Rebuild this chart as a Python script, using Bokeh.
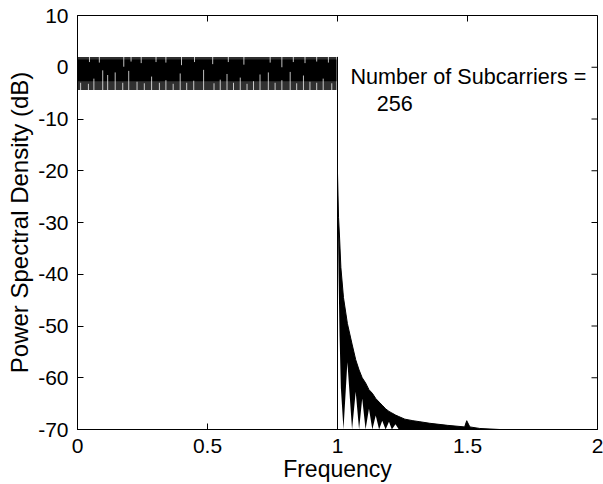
import math
from bokeh.plotting import figure
from bokeh.models import Range1d, Label, FixedTicker
from bokeh.embed import file_html
from bokeh.resources import INLINE

# ---- data ----
# in-band spectrum (0..1): dense ripple, drawn as core band + fringe + notches
band_x = [0.0, 0.996]
band_core_hi = [1.5, 1.5]
band_core_lo = [-2.7, -2.7]
band_fringe_hi = [2.0, 2.0]
band_fringe_lo = [-4.4, -4.4]

# white dips reaching up from the bottom of the band (x, top of dip in dB)
notch_up_x = [0.012, 0.042, 0.063, 0.097, 0.116, 0.145, 0.174, 0.197, 0.229, 0.257,
              0.285, 0.315, 0.340, 0.368, 0.395, 0.420, 0.447, 0.485, 0.525, 0.549,
              0.575, 0.600, 0.626, 0.652, 0.677, 0.702, 0.734, 0.760, 0.786, 0.818,
              0.843, 0.869, 0.894, 0.920, 0.945, 0.978]
notch_up_top = [-3.0, -3.2, -2.2, -0.6, -1.5, -1.0, -3.0, -0.7, -2.8, -3.1,
                -1.8, -3.0, -2.5, -3.2, -1.2, -3.0, -2.6, -0.5, -3.1, -2.4,
                -1.3, -3.0, -2.0, -3.2, -2.7, -1.4, -1.0, -3.0, -2.5, -0.9,
                -3.1, -1.6, -2.8, -3.0, -2.2, -3.1]
# white dips reaching down from the top of the band (x, bottom of dip in dB)
notch_dn_x = [0.046, 0.084, 0.178, 0.206, 0.245, 0.302, 0.340, 0.400, 0.450, 0.520,
              0.580, 0.640, 0.741, 0.786, 0.830, 0.875, 0.920, 0.965]
notch_dn_bot = [1.0, 0.9, 0.1, 1.1, 0.8, 1.0, 0.9, 0.4, 1.0, 0.6,
                1.0, 0.5, 0.9, 0.0, 1.0, 0.8, 1.1, 0.9]

# band edge at f = 1
edge_x = [1.0]
edge_lo = [-70.0]
edge_hi = [2.0]

# out-of-band tail (upper and lower envelope)
tail_x = [1.000, 1.004, 1.008, 1.013, 1.023, 1.038, 1.056, 1.070, 1.083, 1.095,
          1.108, 1.121, 1.134, 1.147, 1.160, 1.172, 1.185, 1.198, 1.209, 1.223,
          1.236, 1.259, 1.290, 1.317, 1.355, 1.424, 1.489, 1.497, 1.509, 1.547,
          1.624, 2.000]
tail_hi = [-20.5, -29.0, -33.0, -38.7, -44.5, -49.5, -53.5, -56.5, -58.5, -60.0,
           -61.0, -62.3, -63.0, -64.0, -64.7, -65.3, -66.0, -66.5, -66.8, -67.2,
           -67.5, -68.0, -68.3, -68.5, -68.8, -69.2, -69.5, -68.3, -69.5, -69.8,
           -70.0, -70.0]
tail_lo = [-24.0, -40.0, -52.0, -62.0, -70.0, -57.0, -70.0, -62.7, -70.0, -64.0,
           -70.0, -66.0, -70.0, -67.3, -70.0, -68.3, -70.0, -68.5, -70.0, -69.0,
           -70.0, -70.0, -70.0, -70.0, -70.0, -70.0, -70.0, -70.0, -70.0, -70.0,
           -70.0, -70.0]

x_ticks = [0, 0.5, 1, 1.5, 2]
x_tick_labels = ["0", "0.5", "1", "1.5", "2"]
y_ticks = [-70, -60, -50, -40, -30, -20, -10, 0, 10]
y_tick_labels = ["-70", "-60", "-50", "-40", "-30", "-20", "-10", "0", "10"]

FONT = "Liberation Sans"

p = figure(width=603, height=484, x_range=Range1d(x_ticks[0], x_ticks[-1]),
           y_range=Range1d(y_ticks[0], y_ticks[-1]),
           output_backend="svg", toolbar_location=None,
           min_border_left=77, min_border_right=6, min_border_top=15, min_border_bottom=54)
p.xgrid.visible = False
p.ygrid.visible = False
p.outline_line_color = "black"
p.background_fill_color = "white"
p.border_fill_color = "white"

# data
p.varea(x=band_x, y1=band_fringe_lo, y2=band_fringe_hi, fill_color="#303030")
p.varea(x=band_x, y1=band_core_lo, y2=band_core_hi, fill_color="black")
p.segment(x0=notch_up_x, y0=[-4.5] * len(notch_up_x), x1=notch_up_x, y1=notch_up_top,
          line_color="white", line_width=1, line_alpha=0.75)
p.segment(x0=notch_dn_x, y0=[2.1] * len(notch_dn_x), x1=notch_dn_x, y1=notch_dn_bot,
          line_color="white", line_width=1, line_alpha=0.75)
p.segment(x0=edge_x, y0=edge_lo, x1=edge_x, y1=edge_hi, line_color="black", line_width=1)
p.varea(x=tail_x, y1=tail_lo, y2=tail_hi, fill_color="black")
p.line(tail_x, tail_hi, line_color="black", line_width=1)

# inward ticks on the top and right edges of the box (clipped to the frame)
p.scatter(x=x_ticks, y=[y_ticks[-1]] * len(x_ticks), marker="dash", size=12,
          angle=math.pi / 2, line_color="black", line_width=1)
p.scatter(x=[x_ticks[-1]] * len(y_ticks), y=y_ticks, marker="dash", size=12,
          line_color="black", line_width=1)

# axes
def style_axis(ax):
    ax.axis_line_color = "black"
    ax.major_tick_line_color = "black"
    ax.major_tick_in = 6
    ax.major_tick_out = 0
    ax.minor_tick_line_color = None
    ax.major_label_text_font = FONT
    ax.major_label_text_color = "black"
    ax.major_label_text_font_size = "21px"
    ax.axis_label_text_font = FONT
    ax.axis_label_text_font_style = "normal"
    ax.axis_label_text_color = "black"

xa = p.xaxis[0]
ya = p.yaxis[0]
style_axis(xa)
style_axis(ya)
xa.ticker = FixedTicker(ticks=x_ticks)
ya.ticker = FixedTicker(ticks=y_ticks)
xa.major_label_overrides = dict(zip(x_ticks, x_tick_labels))
ya.major_label_overrides = dict(zip(y_ticks, y_tick_labels))
xa.major_label_standoff = 9
ya.major_label_standoff = 9
xa.axis_label = "Frequency"
xa.axis_label_text_font_size = "23px"
xa.axis_label_standoff = 0
ya.axis_label = "Power Spectral Density (dB)"
ya.axis_label_text_font_size = "24px"
ya.axis_label_standoff = 2

p.add_layout(Label(x=1.050, y=-1.73, text="Number of Subcarriers =",
                   text_font=FONT, text_font_size="21.6px", text_color="black",
                   text_baseline="alphabetic", text_align="left"))
p.add_layout(Label(x=1.151, y=-6.98, text="256",
                   text_font=FONT, text_font_size="21.6px", text_color="black",
                   text_baseline="alphabetic", text_align="left"))

open("out.html", "w").write(file_html(p, INLINE))
